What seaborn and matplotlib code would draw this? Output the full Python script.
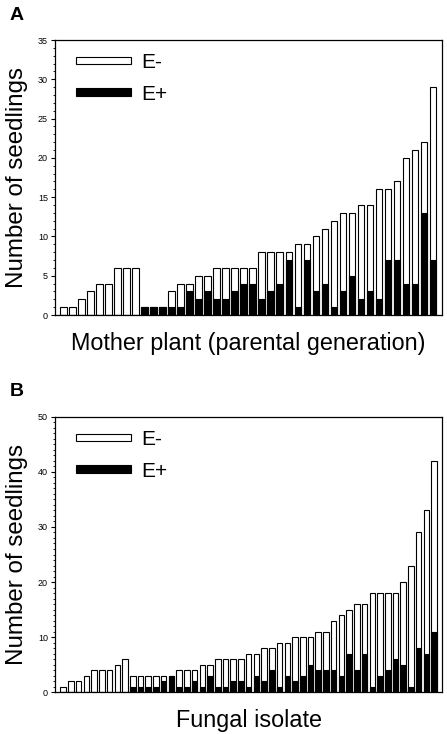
import numpy as np
import pandas as pd
import matplotlib
matplotlib.use("Agg")
import matplotlib.pyplot as plt
import seaborn as sns
from matplotlib.patches import Patch
from matplotlib.ticker import MultipleLocator

# panel A - mother plants: total seedlings and E+ seedlings
a_total = [1, 1, 2, 3, 4, 4, 6, 6, 6, 1, 1, 1, 3, 4, 4, 5, 5, 6, 6, 6, 6, 6,
           8, 8, 8, 8, 9, 9, 10, 11, 12, 13, 13, 14, 14, 16, 16, 17, 20, 21, 22, 29]
a_eplus = [0, 0, 0, 0, 0, 0, 0, 0, 0, 1, 1, 1, 1, 1, 3, 2, 3, 2, 2, 3, 4, 4,
           2, 3, 4, 7, 1, 7, 3, 4, 1, 3, 5, 2, 3, 2, 7, 7, 4, 4, 13, 7]

# panel B - fungal isolates
b_total = [1, 2, 2, 3, 4, 4, 4, 5, 6, 3, 3, 3, 3, 3, 3, 4, 4, 4, 5, 5, 6, 6, 6, 6,
           7, 7, 8, 8, 9, 9, 10, 10, 10, 11, 11, 13, 14, 15, 16, 16, 18, 18, 18, 18,
           20, 23, 29, 33, 42]
b_eplus = [0, 0, 0, 0, 0, 0, 0, 0, 0, 1, 1, 1, 1, 2, 3, 1, 1, 2, 1, 3, 1, 1, 2, 2,
           1, 3, 2, 4, 1, 3, 2, 3, 5, 4, 4, 4, 3, 7, 4, 7, 1, 3, 4, 6,
           5, 1, 8, 7, 11]

sns.set_style("ticks")
plt.rcParams['font.family'] = ['Liberation Sans', 'DejaVu Sans']
plt.rcParams['text.color'] = 'black'
plt.rcParams['axes.labelcolor'] = 'black'
plt.rcParams['ytick.color'] = 'black'

fig = plt.figure(figsize=(4.47, 7.34), dpi=100)
axA = fig.add_axes([0.123, 0.5708, 0.866, 0.3747])
axB = fig.add_axes([0.123, 0.0572, 0.866, 0.3747])


def draw_panel(ax, total, eplus, ymax, major, minor, xlabel, letter, xlim):
    df = pd.DataFrame({'idx': np.arange(len(total)), 'total': total, 'eplus': eplus})
    sns.barplot(data=df, x='idx', y='total', color='white', edgecolor='black',
                linewidth=0.8, width=0.72, saturation=1, ax=ax)
    sns.barplot(data=df, x='idx', y='eplus', color='black', edgecolor='black',
                linewidth=0.8, width=0.72, saturation=1, ax=ax)
    ax.set_xlim(*xlim)
    ax.set_ylim(0, ymax)
    ax.yaxis.set_major_locator(MultipleLocator(major))
    ax.yaxis.set_minor_locator(MultipleLocator(minor))
    ax.set_xticks([])
    ax.tick_params(axis='y', which='major', direction='out', length=3, width=0.8,
                   labelsize=6.5, pad=2)
    ax.tick_params(axis='y', which='minor', direction='out', length=1.5, width=0.6)
    for s in ax.spines.values():
        s.set_visible(True)
        s.set_linewidth(0.9)
        s.set_color('black')
    ax.set_xlabel(xlabel, fontsize=16.8, labelpad=12)
    ax.set_ylabel('Number of seedlings', fontsize=17.4, labelpad=7)
    handles = [Patch(facecolor='white', edgecolor='black', linewidth=0.8, label='E-'),
               Patch(facecolor='black', edgecolor='black', linewidth=0.8, label='E+')]
    ax.legend(handles=handles, loc='upper left', bbox_to_anchor=(0.054, 0.952),
              frameon=False, fontsize=15, handlelength=2.64, handleheight=0.18,
              handletextpad=0.5, labelspacing=0.6, borderpad=0, borderaxespad=0)
    ax.text(-0.118, 1.06, letter, transform=ax.transAxes, fontsize=14,
            fontweight='bold', ha='left', va='bottom')


draw_panel(axA, a_total, a_eplus, 35, 5, 1,
           'Mother plant (parental generation)', 'A', (-0.92, 42.0))
draw_panel(axB, b_total, b_eplus, 50, 10, 1,
           'Fungal isolate', 'B', (-1.07, 49.03))

fig.savefig('out.png', dpi=100)
